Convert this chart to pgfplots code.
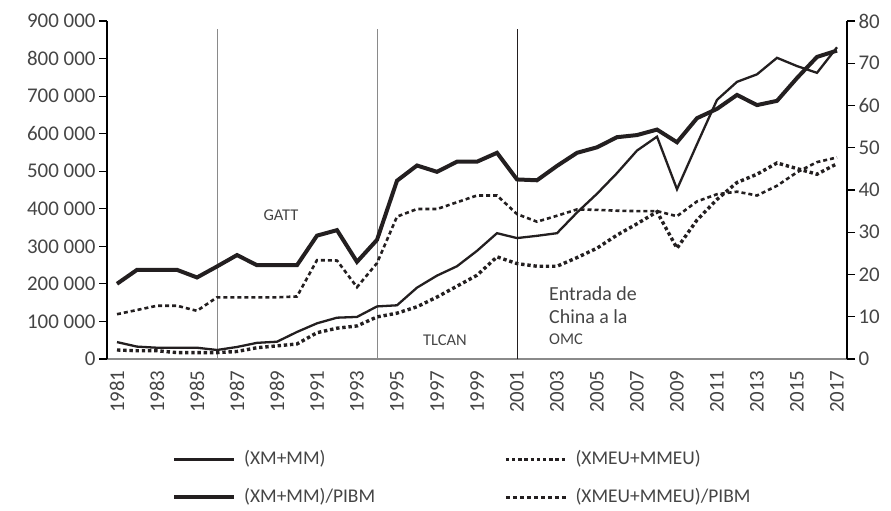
\documentclass[border=0pt]{standalone}
\usepackage{pgfplots}
\pgfplotsset{compat=1.18}
\usepackage{pgfplotstable}
\usepackage{fontspec}
\setmainfont{Carlito}
\definecolor{lc}{HTML}{231F20}
\definecolor{tc}{HTML}{454545}
\definecolor{vl}{HTML}{8A8A8A}
\tikzset{
  sXM/.style={line width=2.3bp, color=lc},
  sXMEU/.style={line width=3.4bp, color=lc, dash pattern=on 3.4bp off 2.8bp},
  sPIB/.style={line width=4bp, color=lc},
  sPIBEU/.style={line width=2.6bp, color=lc, dash pattern=on 4bp off 3bp},
}
\pgfplotstableread{
year xm xmeu pib pibeu
1981 45000 24000 17.8 10.6
1982 33000 22000 21.1 11.6
1983 30000 22000 21.1 12.6
1984 30000 17000 21.1 12.6
1985 30000 17000 19.3 11.4
1986 24000 17000 21.9 14.6
1987 32000 20000 24.6 14.6
1988 43000 30000 22.2 14.6
1989 46000 35000 22.2 14.6
1990 72000 40000 22.2 14.8
1991 95000 70000 29.2 23.4
1992 110000 82000 30.5 23.3
1993 112000 88000 23.0 17.0
1994 140000 112000 28.2 22.7
1995 143000 122000 42.2 33.7
1996 190000 139000 45.8 35.5
1997 222000 165000 44.3 35.5
1998 247000 194000 46.7 37.1
1999 288000 223000 46.7 38.7
2000 335000 272000 48.8 38.7
2001 322000 254000 42.5 34.3
2002 328000 247000 42.3 32.5
2003 335000 247000 45.7 33.9
2004 390000 270000 48.8 35.4
2005 440000 295000 50.1 35.3
2006 495000 330000 52.5 35.1
2007 555000 360000 53.0 35.0
2008 592000 392000 54.3 35.0
2009 452000 295000 51.3 33.8
2010 572000 370000 57.0 37.3
2011 690000 425000 59.2 39.0
2012 738000 470000 62.5 39.6
2013 758000 492000 60.1 38.7
2014 802000 522000 61.1 41.0
2015 780000 507000 66.5 44.2
2016 762000 492000 71.5 46.6
2017 830000 520000 73.0 47.7
}\datatab
\begin{document}
\begin{tikzpicture}
\useasboundingbox (0,0) rectangle (891bp,511bp);
\begin{axis}[
  at={(107bp,152bp)}, anchor=south west,
  scale only axis, width=740bp, height=338bp,
  xmin=1980.5, xmax=2017.5, ymin=0, ymax=900000,
  axis x line*=bottom, axis y line*=left,
  x axis line style={-, draw=vl, line width=1.2bp},
  y axis line style={-, draw=black, line width=1.2bp},
  xtick={1981,1983,1985,1987,1989,1991,1993,1995,1997,1999,2001,2003,2005,2007,2009,2011,2013,2015,2017},
  xticklabels={1981,1983,1985,1987,1989,1991,1993,1995,1997,1999,2001,2003,2005,2007,2009,2011,2013,2015,2017},
  xtick style={draw=none},
  x tick label style={rotate=90, anchor=east, font=\fontsize{21}{24}\selectfont, text=tc},
  ytick={0,100000,200000,300000,400000,500000,600000,700000,800000,900000},
  yticklabels={0,100 000,200 000,300 000,400 000,500 000,600 000,700 000,800 000,900 000},
  y tick label style={font=\fontsize{21}{24}\selectfont, text=tc},
  ytick style={draw=black, line width=1.2bp},
  tick align=outside, major tick length=8bp,
  scaled y ticks=false,
  clip=false,
  legend columns=2,
  legend cell align=left,
  legend image code/.code={\draw[#1] (0bp,0bp) -- (60bp,0bp);},
  legend style={at={(0.0878,-0.27)}, anchor=north west, draw=none, fill=none,
    inner sep=0pt, font=\fontsize{19.5}{22}\selectfont, text=tc, row sep=20bp,
    nodes={inner sep=0pt, text height=14bp, text depth=4bp},
    /tikz/every odd column/.append style={column sep=8bp},
    /tikz/every even column/.append style={column sep=129bp}},
]
\addplot[vl, line width=1bp, forget plot] coordinates {(1986,0) (1986,878000)};
\addplot[vl, line width=1bp, forget plot] coordinates {(1994,0) (1994,878000)};
\addplot[lc, line width=1bp, forget plot] coordinates {(2001,0) (2001,878000)};
\addplot[sXM] table[x=year,y=xm]{\datatab};
\addlegendentry{(XM+MM)}
\addplot[sXMEU] table[x=year,y=xmeu]{\datatab};
\addlegendentry{(XMEU+MMEU)}
\addlegendimage{sPIB}
\addlegendentry{(XM+MM)/PIBM}
\addlegendimage{sPIBEU}
\addlegendentry{(XMEU+MMEU)/PIBM}
\node[font=\fontsize{16.5}{19}\selectfont, text=tc] at (axis cs:1989.2,383000) {GATT};
\node[font=\fontsize{16.5}{19}\selectfont, text=tc] at (axis cs:1997.4,50500) {TLCAN};
\node[font=\fontsize{20}{23}\selectfont, text=tc, anchor=west, inner sep=0pt] at (axis cs:2002.6,172900) {Entrada de};
\node[font=\fontsize{20}{23}\selectfont, text=tc, anchor=west, inner sep=0pt] at (axis cs:2002.6,112500) {China a la};
\node[font=\fontsize{16.5}{19}\selectfont, text=tc, anchor=west, inner sep=0pt] at (axis cs:2002.6,53200) {OMC};
\end{axis}
\begin{axis}[
  at={(107bp,152bp)}, anchor=south west,
  scale only axis, width=740bp, height=338bp,
  xmin=1980.5, xmax=2017.5, ymin=0, ymax=80,
  axis x line=none, axis y line*=right,
  y axis line style={-, draw=black, line width=1.2bp},
  ytick={0,10,20,30,40,50,60,70,80},
  yticklabels={0,10,20,30,40,50,60,70,80},
  y tick label style={font=\fontsize{21}{24}\selectfont, text=tc},
  ytick style={draw=black, line width=1.2bp},
  tick align=outside, major tick length=8bp,
]
\addplot[sPIB] table[x=year,y=pib]{\datatab};
\addplot[sPIBEU] table[x=year,y=pibeu]{\datatab};
\end{axis}
\end{tikzpicture}
\end{document}
